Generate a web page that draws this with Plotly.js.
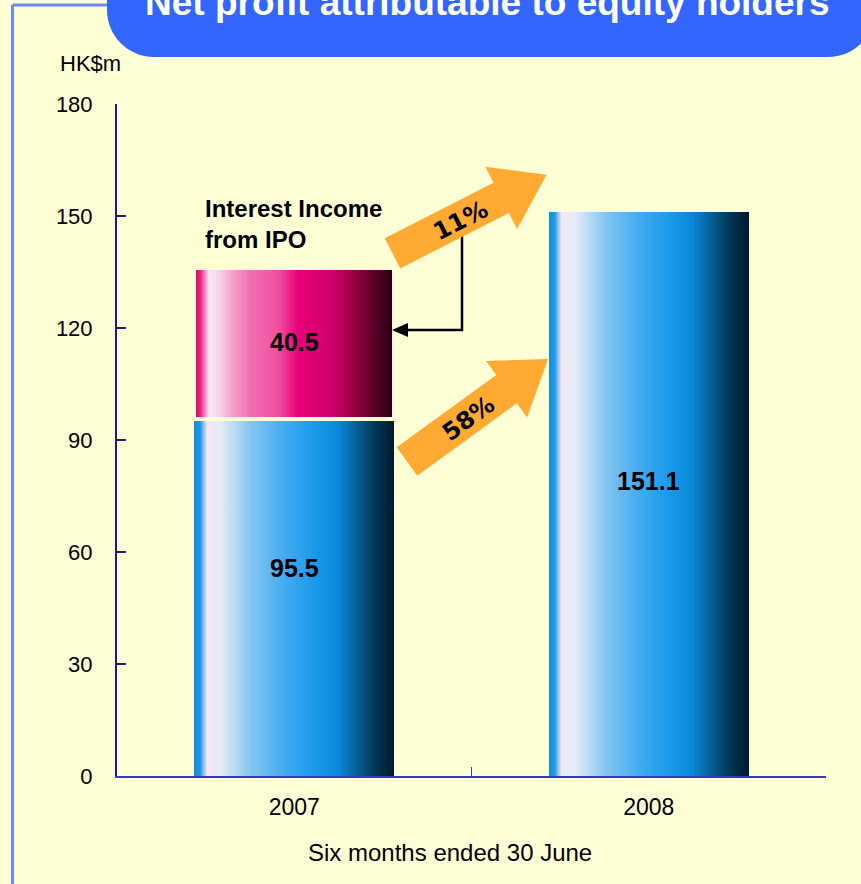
<!DOCTYPE html>
<html><head><meta charset="utf-8">
<script src="https://cdn.plot.ly/plotly-3.0.1.min.js"></script>
<style>html,body{margin:0;padding:0;background:#FFFFD6;}#chart{width:861px;height:884px;}</style>
</head><body><div id="chart"></div>
<script>
// ---- data ----
const years = ['2007', '2008'];
const coreProfit = [95.5, 151.1];          // HK$m, blue bars
const ipoYears = ['2007'];
const ipoInterest = [40.5];                // HK$m, interest income from IPO (stacked)
const yTicks = [0, 30, 60, 90, 120, 150, 180];
const growthLabels = ['11%', '58%'];
const chartTitle = 'Net profit attributable to equity holders';
const yUnit = 'HK$m';
const xTitle = 'Six months ended 30 June';
const ipoNote = 'Interest Income<br>from IPO';

// ---- geometry helpers (pixel -> paper) ----
const L = 117, R = 826, T = 104, B = 776, W = R - L, H = B - T;
const px = X => (X - L) / W, py = Y => (B - Y) / H;
function pathFrom(points, close) {
  return points.map((p, i) => (i ? 'L' : 'M') + px(p[0]).toFixed(5) + ',' + py(p[1]).toFixed(5)).join(' ') + (close ? ' Z' : '');
}
function blockArrow(tx, ty, angDeg, bodyLen, headLen, bw, hw) {
  const a = angDeg * Math.PI / 180;
  const u = [Math.cos(a), -Math.sin(a)], n = [Math.sin(a), Math.cos(a)];
  const P = (d, s) => [tx + u[0] * d + n[0] * s, ty + u[1] * d + n[1] * s];
  return pathFrom([P(0, -bw), P(bodyLen, -bw), P(bodyLen, -hw), P(bodyLen + headLen, 0),
                   P(bodyLen, hw), P(bodyLen, bw), P(0, bw)], true);
}
function roundedBox(x0, y0, x1, y1, r) {
  const k = 0.5523 * r;
  const p = (X, Y) => px(X).toFixed(5) + ',' + py(Y).toFixed(5);
  return 'M' + p(x0, y0) + ' L' + p(x0, y1 - r) +
    ' C' + p(x0, y1 - r + k) + ' ' + p(x0 + r - k, y1) + ' ' + p(x0 + r, y1) +
    ' L' + p(x1 - r, y1) +
    ' C' + p(x1 - r + k, y1) + ' ' + p(x1, y1 - r + k) + ' ' + p(x1, y1 - r) +
    ' L' + p(x1, y0) + ' Z';
}

const bg = '#FFFFD6';
const FONT = 'Liberation Sans, Arial, sans-serif';
const traces = [
  { type: 'bar', x: years, y: coreProfit, width: 0.565, marker: { color: '#1A9AEA', line: { width: 0 } },
    hoverinfo: 'skip', showlegend: false },
  { type: 'bar', x: ipoYears, y: ipoInterest, width: 0.565, marker: { color: '#E8007A', line: { color: bg, width: 4 } },
    hoverinfo: 'skip', showlegend: false }
];

const orange = '#FFAA33';
const shapes = [
  // frame lines
  { type: 'line', xref: 'paper', yref: 'paper', x0: px(12.5), x1: px(12.5), y0: py(5), y1: py(900), line: { color: '#6A88FF', width: 3 } },
  { type: 'line', xref: 'paper', yref: 'paper', x0: px(12.5), x1: px(140), y0: py(5), y1: py(5), line: { color: '#6A88FF', width: 3 } },
  // title box
  { type: 'path', xref: 'paper', yref: 'paper', path: roundedBox(107, -60, 875, 57, 47), fillcolor: '#3366FF', line: { width: 0 } },
  // connector from arrow to IPO bar
  { type: 'path', xref: 'paper', yref: 'paper', path: pathFrom([[462, 236], [462, 330], [404, 330]], false), line: { color: '#000', width: 2.5 } },
  { type: 'path', xref: 'paper', yref: 'paper', path: pathFrom([[392, 330], [408, 323], [408, 337]], true), fillcolor: '#000', line: { width: 0 } },
  // growth arrows
  { type: 'path', xref: 'paper', yref: 'paper', path: blockArrow(392.5, 253.3, 27, 122, 51, 17, 35), fillcolor: orange, line: { width: 0 } },
  { type: 'path', xref: 'paper', yref: 'paper', path: blockArrow(407, 461.5, 36, 123, 51.5, 17.5, 35), fillcolor: orange, line: { width: 0 } }
];

const labelFont = { family: FONT, size: 25, color: '#000' };
const annotations = [
  { xref: 'paper', yref: 'paper', x: px(487), y: py(3), text: '<b>' + chartTitle + '</b>', showarrow: false,
    font: { family: FONT, size: 37, color: '#fff' }, xanchor: 'center', yanchor: 'middle' },
  { xref: 'paper', yref: 'paper', x: px(58), y: py(64), text: yUnit, showarrow: false, xanchor: 'left', yanchor: 'middle',
    font: { family: FONT, size: 22, color: '#000' } },
  { xref: 'paper', yref: 'paper', x: px(449.5), y: py(852), text: xTitle, showarrow: false, xanchor: 'center', yanchor: 'middle',
    font: { family: FONT, size: 24, color: '#000' } },
  { xref: 'paper', yref: 'paper', x: px(203), y: py(224), text: '<b>' + ipoNote + '</b>', showarrow: false, xanchor: 'left', yanchor: 'middle', align: 'left',
    font: { family: FONT, size: 24, color: '#000' } },
  { xref: 'paper', yref: 'paper', x: px(460), y: py(221), text: '<b>' + growthLabels[0] + '</b>', showarrow: false, textangle: -27,
    xanchor: 'center', yanchor: 'middle', font: { family: 'DejaVu Sans, sans-serif', size: 24, color: '#000' } },
  { xref: 'paper', yref: 'paper', x: px(468), y: py(419), text: '<b>' + growthLabels[1] + '</b>', showarrow: false, textangle: -36,
    xanchor: 'center', yanchor: 'middle', font: { family: 'DejaVu Sans, sans-serif', size: 24, color: '#000' } }
];
// value labels inside bars (category axis -> use category index)
const labelPos = [0.583, 0.523];
years.forEach((yr, i) => annotations.push({ xref: 'x', yref: 'y', x: i, y: coreProfit[i] * labelPos[i],
  text: '<b>' + coreProfit[i].toFixed(1) + '</b>', showarrow: false, xanchor: 'center', yanchor: 'middle', font: labelFont }));
ipoYears.forEach((yr, i) => { const k = years.indexOf(yr); annotations.push({ xref: 'x', yref: 'y', x: k, y: coreProfit[k] + ipoInterest[i] / 2 + 0.5,
  text: '<b>' + ipoInterest[i].toFixed(1) + '</b>', showarrow: false, xanchor: 'center', yanchor: 'middle', font: labelFont }); });

const layout = {
  width: 861, height: 884,
  margin: { l: L, r: 861 - R, t: T, b: 884 - B, pad: 0 },
  paper_bgcolor: bg, plot_bgcolor: bg,
  barmode: 'stack', showlegend: false,
  font: { family: FONT, size: 22, color: '#000' },
  xaxis: { type: 'category', range: [-0.5, 1.5], showline: true, linecolor: '#3a3ab8', linewidth: 2,
    ticks: 'inside', tickson: 'boundaries', ticklen: 9, tickwidth: 1.5, tickcolor: '#3a3ab8',
    ticklabelstandoff: 9, showgrid: false, zeroline: false,
    tickfont: { size: 23 } },
  yaxis: { range: [0, 180], tickvals: yTicks, showline: true, linecolor: '#1a1a8a', linewidth: 2,
    ticks: 'inside', ticklen: 9, tickwidth: 2, tickcolor: '#1a1a8a', ticklabelstandoff: 18,
    showgrid: false, zeroline: false, tickfont: { size: 22 } },
  shapes: shapes,
  annotations: annotations
};

Plotly.newPlot('chart', traces, layout, { displayModeBar: false, staticPlot: true }).then(gd => {
  const svg = gd.querySelector('svg.main-svg');
  const NS = 'http://www.w3.org/2000/svg';
  let defs = svg.querySelector('defs');
  if (!defs) { defs = document.createElementNS(NS, 'defs'); svg.insertBefore(defs, svg.firstChild); }
  function grad(id, stops) {
    const g = document.createElementNS(NS, 'linearGradient');
    g.setAttribute('id', id); g.setAttribute('x1', '0'); g.setAttribute('x2', '1'); g.setAttribute('y1', '0'); g.setAttribute('y2', '0');
    stops.forEach(s => { const st = document.createElementNS(NS, 'stop'); st.setAttribute('offset', s[0]); st.setAttribute('stop-color', s[1]); g.appendChild(st); });
    defs.appendChild(g);
  }
  grad('gBlue', [[0, '#0A90E0'], [0.03, '#1E98E4'], [0.065, '#F4E8F4'], [0.13, '#E6ECF6'], [0.19, '#C0DEF4'], [0.29, '#80C4F0'],
    [0.46, '#40AAF0'], [0.6, '#1A9AEA'], [0.72, '#0A88D8'], [0.8, '#05649E'], [0.9, '#023858'], [1, '#001A2A']]);
  grad('gPink', [[0, '#E0006A'], [0.03, '#E4207E'], [0.075, '#F8E8F4'], [0.13, '#F6D0E6'], [0.19, '#F8A0CC'], [0.28, '#F070B0'],
    [0.42, '#F050A0'], [0.52, '#E8007A'], [0.69, '#D0006A'], [0.81, '#900040'], [1, '#200010']]);
  const tr = gd.querySelectorAll('.barlayer .trace');
  const ids = ['gBlue', 'gPink'];
  tr.forEach((t, i) => t.querySelectorAll('.point path').forEach(p => { p.style.fill = 'url(#' + ids[i] + ')'; }));
});
</script>
</body></html>
